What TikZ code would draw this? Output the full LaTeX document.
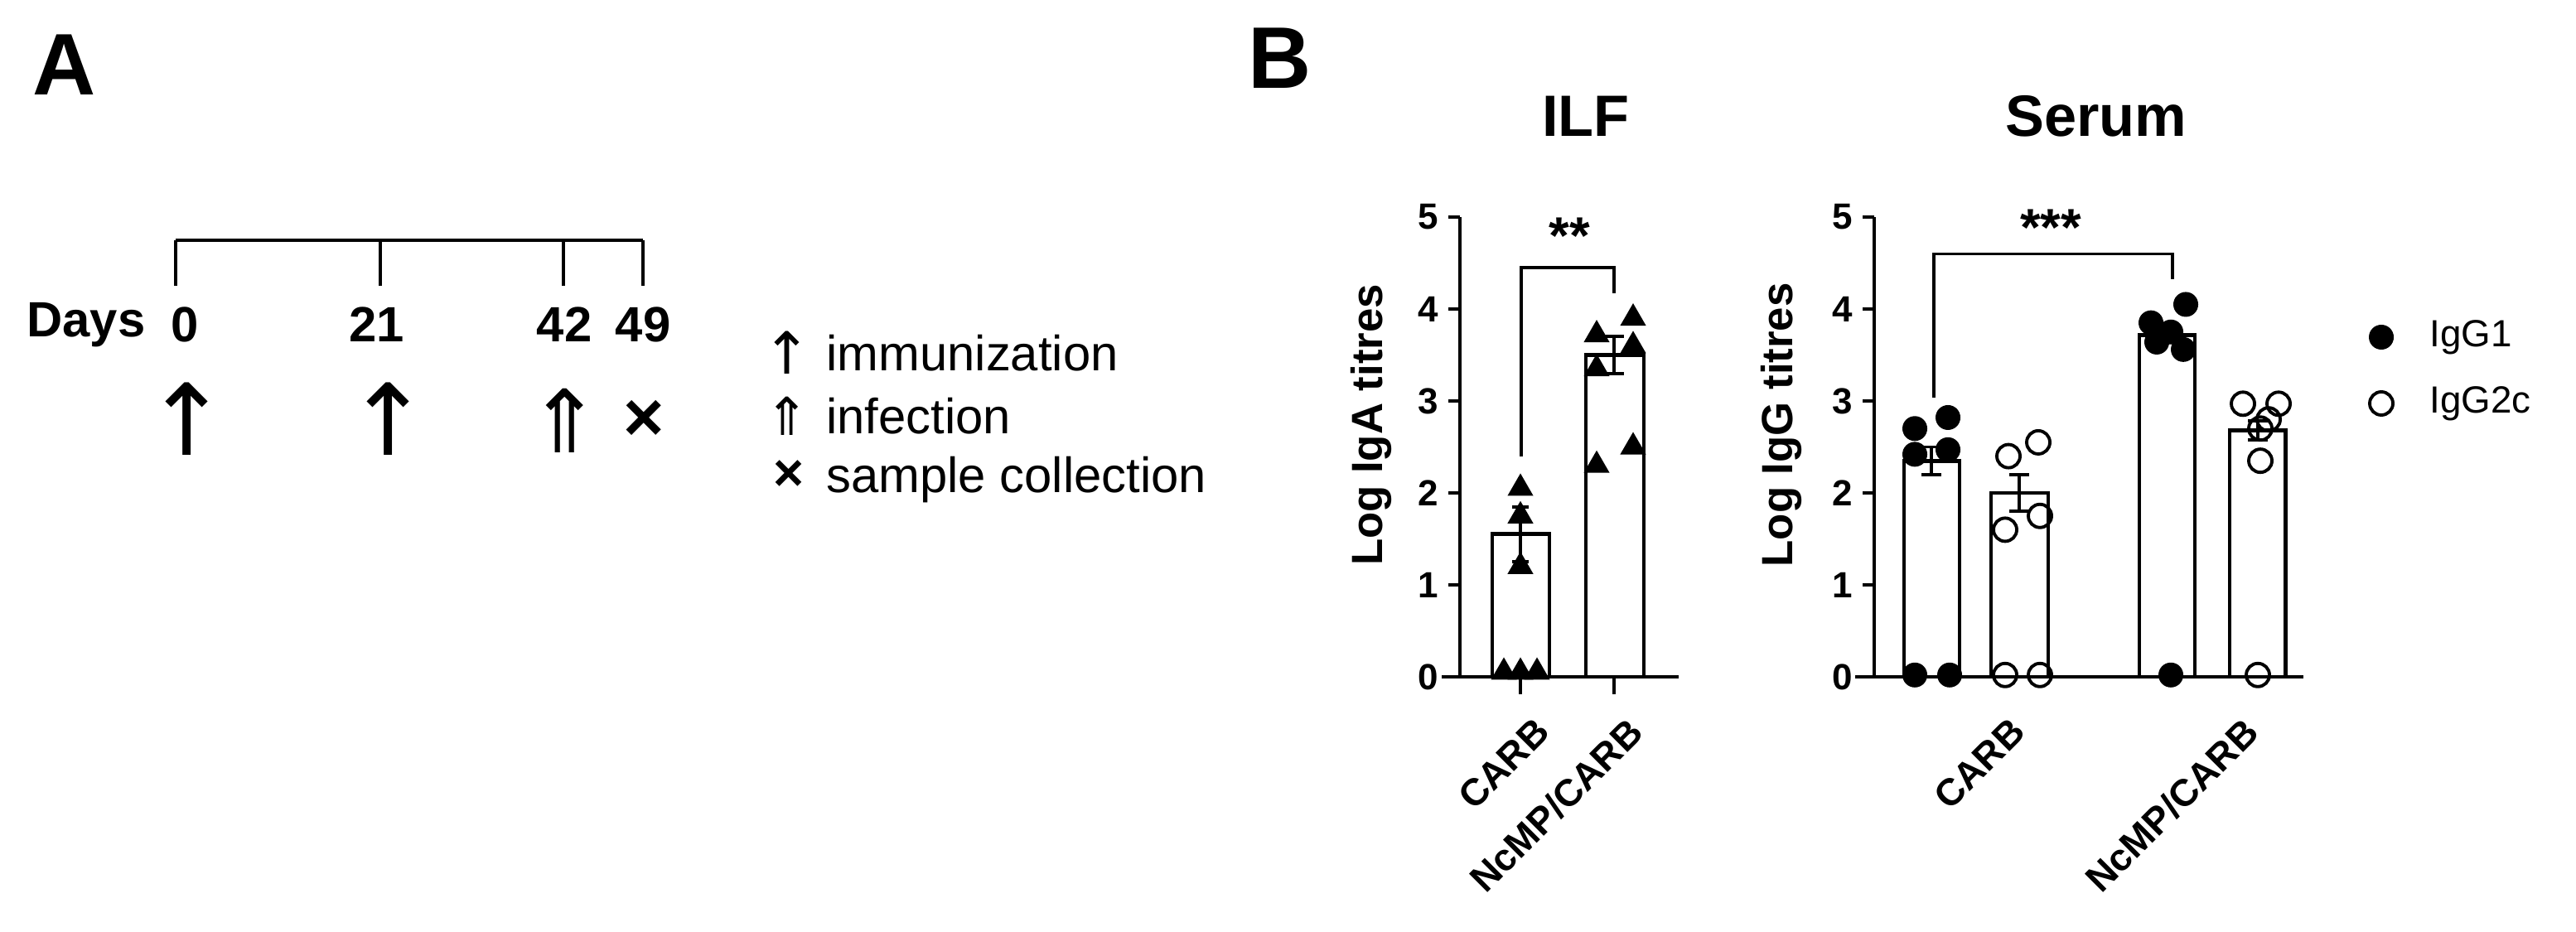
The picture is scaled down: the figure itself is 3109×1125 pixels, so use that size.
\documentclass[tikz,border=0pt]{standalone}
\usepackage{fontspec}
\setmainfont{Liberation Sans}
\newfontfamily\symf{DejaVu Sans}
\usetikzlibrary{shapes.geometric}
\begin{document}
\begin{tikzpicture}[x=0.01cm,y=-0.01cm,
  ln/.style={line width=1.1pt},
  barbox/.style={draw,line width=1.4pt,fill=white},
  tri/.style={regular polygon,regular polygon sides=3,fill=black,inner sep=0pt,minimum size=0.36cm},
  fdot/.style={circle,fill=black,inner sep=0pt,minimum size=0.3cm},
  odot/.style={circle,draw,line width=1.1pt,fill=none,inner sep=0pt,minimum size=0.28cm},
  tl/.style={font=\fontsize{12.5}{14}\selectfont\bfseries,anchor=east},
  xl/.style={font=\fontsize{13}{15}\selectfont\bfseries,rotate=45,anchor=north east,inner sep=1pt},
  yl/.style={font=\fontsize{15}{17}\selectfont\bfseries,rotate=90},
  ttl/.style={font=\fontsize{20}{22}\selectfont\bfseries},
  pan/.style={font=\fontsize{30}{32}\selectfont\bfseries},
  dn/.style={font=\fontsize{17}{19}\selectfont\bfseries},
  lg/.style={font=\fontsize{17}{19}\selectfont,anchor=west}]
\useasboundingbox (0,0) rectangle (3109,1125);
% ---------- Panel A ----------
\node[pan] (A) at (78,78) {A};
\coordinate (t0) at (212,290); \coordinate (t21) at (459,290);
\coordinate (t42) at (680,290); \coordinate (t49) at (776,290);
\draw[ln] (t0) -- (t49);
\foreach \t in {t0,t21,t42,t49} \draw[ln] (\t) -- ++(0,55);
\node[dn] (days) at (104,392) {Days};
\node[dn] (d0) at (223,392) {0};
\node[dn] (d21) at (455,392) {21};
\node[dn] (d42) at (681,392) {42};
\node[dn] (d49) at (776,392) {49};
\node[font=\symf\fontsize{34}{36}\selectfont] (a0) at (226,506) {↑};
\node[font=\symf\fontsize{34}{36}\selectfont] (a21) at (469,506) {↑};
\node[font=\symf\fontsize{30}{36}\selectfont] (a42) at (682,508) {⇑};
\node[font=\bfseries\fontsize{24}{26}\selectfont] (a49) at (777,508) {×};
\node[font=\symf\fontsize{20}{22}\selectfont] (l1s) at (950,426) {↑};
\node[lg] (l1) at (985,426) {immunization};
\node[font=\symf\fontsize{18}{22}\selectfont] (l2s) at (950,502) {⇑};
\node[lg] (l2) at (985,502) {infection};
\node[font=\bfseries\fontsize{18}{22}\selectfont] (l3s) at (952,574) {×};
\node[lg] (l3) at (985,579) {sample collection};
% ---------- Panel B ----------
\node[pan] (B) at (1545,70) {B};
\node[ttl] (ilf) at (1914,140) {ILF};
\node[ttl] (ser) at (2530,140) {Serum};
% ILF axes
\coordinate (io) at (1762,817);
\draw[ln] (1762,{817-111*5}) -- (io);
\foreach \v in {0,...,5}{
  \draw[ln] (1748,{817-111*\v}) -- (1762,{817-111*\v});
  \node[tl] (il\v) at (1748,{817-111*\v}) {\v};}
\node[yl] (iy) at (1655,513) {Log IgA titres};
% ILF bars
\draw[barbox] (1801,817) rectangle (1870,{817-111*1.55});
\draw[ln] (1835,{817-111*1.25}) -- (1835,{817-111*1.85});
\draw[ln] (1825,{817-111*1.85}) -- (1845,{817-111*1.85});
\draw[ln] (1825,{817-111*1.25}) -- (1845,{817-111*1.25});
\draw[barbox] (1914,817) rectangle (1984,{817-111*3.5});
\draw[ln] (1948,{817-111*3.3}) -- (1948,{817-111*3.7});
\draw[ln] (1936,{817-111*3.7}) -- (1960,{817-111*3.7});
\draw[ln] (1936,{817-111*3.3}) -- (1960,{817-111*3.3});
\draw[line width=1.4pt] (1740,817) -- (2026,817);
\foreach \x/\v [count=\i] in {1835/2.05,1835/1.75,1835/1.2,1815/0.05,1835/0.05,1855/0.05,
  1971/3.9,1927/3.72,1971/3.6,1927/3.35,1927/2.3,1971/2.5}
  \node[tri] (it\i) at (\x,{817-111*\v}) {};
\draw[ln] (1835,817) -- (1835,838);
\draw[ln] (1948,817) -- (1948,838);
\node[xl] (ix1) at (1850,858) {CARB};
\node[xl] (ix2) at (1962,858) {NcMP/CARB};
% ILF bracket
\draw[line width=1pt] (1836,{817-111*2.4}) -- (1836,{817-111*4.45}) -- (1948,{817-111*4.45}) -- (1948,{817-111*4.17});
\node[font=\fontsize{18}{20}\selectfont\bfseries] (ist) at (1894,285) {**};
% Serum axes
\coordinate (so) at (2262,817);
\draw[ln] (2262,{817-111*5}) -- (so);
\foreach \v in {0,...,5}{
  \draw[ln] (2248,{817-111*\v}) -- (2262,{817-111*\v});
  \node[tl] (sl\v) at (2248,{817-111*\v}) {\v};}
\node[yl] (sy) at (2150,513) {Log IgG titres};
% Serum bars
\draw[barbox] (2298,817) rectangle (2365,{817-111*2.35});
\draw[barbox] (2403,817) rectangle (2472,{817-111*2.0});
\draw[barbox] (2582,817) rectangle (2649,{817-111*3.72});
\draw[barbox] (2691,817) rectangle (2758,{817-111*2.68});
\foreach \x/\m/\s in {2331/2.35/0.15,2437/2.0/0.2,2616/3.72/0.05,2725/2.68/0.1}{
  \draw[ln] (\x,{817-111*(\m-\s)}) -- (\x,{817-111*(\m+\s)});
  \draw[ln] (\x-12,{817-111*(\m+\s)}) -- (\x+12,{817-111*(\m+\s)});
  \draw[ln] (\x-12,{817-111*(\m-\s)}) -- (\x+12,{817-111*(\m-\s)});}
\draw[line width=1.4pt] (2239,817) -- (2780,817);
\foreach \x/\v [count=\i] in {2311/2.7,2351/2.82,2311/2.42,2351/2.47,2311/0.02,2353/0.02,
  2596/3.85,2638/4.05,2603/3.64,2635/3.56,2620/3.75,2620/0.02}
  \node[fdot] (sf\i) at (\x,{817-111*\v}) {};
\foreach \x/\v [count=\i] in {2424/2.4,2460/2.55,2420/1.6,2462/1.75,2420/0.02,2462/0.02,
  2707/2.97,2750/2.97,2728/2.7,2728/2.35,2738/2.8,2725/0.02}
  \node[odot] (so\i) at (\x,{817-111*\v}) {};
\node[xl] (sx1) at (2424,858) {CARB};
\node[xl] (sx2) at (2705,858) {NcMP/CARB};
% Serum bracket
\draw[line width=1pt] (2334,{817-111*3.04}) -- (2334,{817-111*4.6}) -- (2622,{817-111*4.6}) -- (2622,{817-111*4.32});
\node[font=\fontsize{18}{20}\selectfont\bfseries] (sst) at (2475,275) {***};
% legend
\node[fdot] (g1) at (2874,407) {};
\node[lg,font=\fontsize{13}{15}\selectfont] (g1t) at (2920,407) {IgG1};
\node[odot] (g2) at (2874,487) {};
\node[lg,font=\fontsize{13}{15}\selectfont] (g2t) at (2920,487) {IgG2c};
\end{tikzpicture}
\end{document}
